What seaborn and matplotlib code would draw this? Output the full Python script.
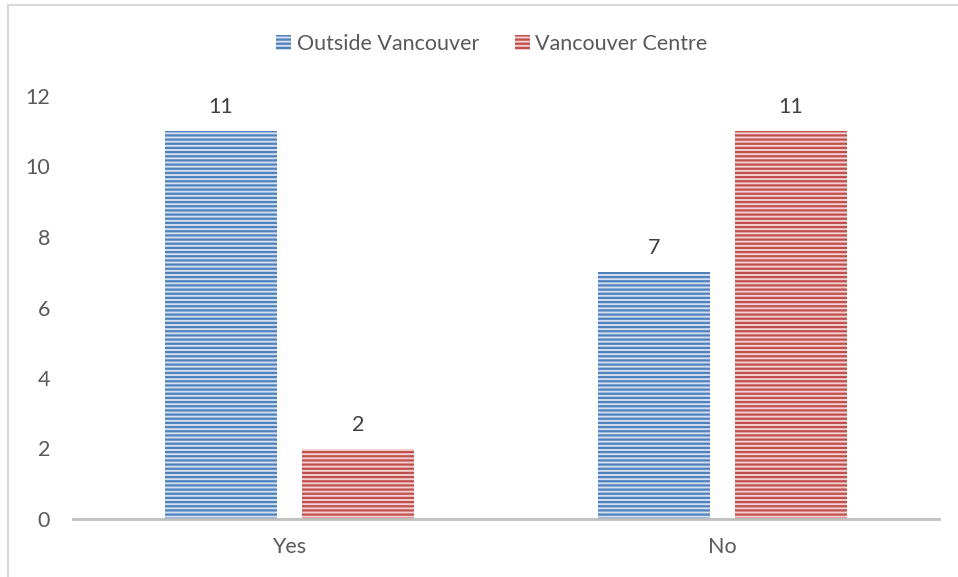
import matplotlib
matplotlib.use("Agg")
import matplotlib.pyplot as plt
import seaborn as sns
import pandas as pd
from matplotlib.patches import Patch, Rectangle

categories = ["Yes", "No"]
series_names = ["Outside Vancouver", "Vancouver Centre"]
outside_values = [11, 7]
centre_values = [2, 11]
yticks = [0, 2, 4, 6, 8, 10, 12]

dark_colors = {"Outside Vancouver": "#4f81bd", "Vancouver Centre": "#c0504d"}
light_colors = {"Outside Vancouver": "#d3dff0", "Vancouver Centre": "#f2d0cf"}

df = pd.DataFrame({
    "answer": categories * 2,
    "region": [series_names[0]] * 2 + [series_names[1]] * 2,
    "count": outside_values + centre_values,
})

sns.set_theme(style="white")
plt.rcParams["font.family"] = ["Lato", "DejaVu Sans"]
plt.rcParams["hatch.linewidth"] = 1.6

FS = 15.5

fig = plt.figure(figsize=(9.58, 5.77), dpi=100)
ax = fig.add_axes([73 / 958, 58 / 577, 866 / 958, 423 / 577])

sns.barplot(data=df, x="answer", y="count", hue="region", order=categories,
            hue_order=series_names, palette=light_colors, width=0.632, gap=0.183,
            ax=ax, legend=False)

for container, name in zip(ax.containers, series_names):
    for bar in container:
        bar.set_facecolor(light_colors[name])
        bar.set_edgecolor(dark_colors[name])
        bar.set_hatch("----")
        bar.set_linewidth(0)
    ax.bar_label(container, padding=10, fontsize=FS, color="#404040")

ax.set_xlim(-0.5, 1.5)
ax.set_ylim(0, 12)
ax.set_yticks(yticks)
ax.set_xlabel("")
ax.set_ylabel("")
for s in ["top", "right", "left"]:
    ax.spines[s].set_visible(False)
ax.spines["bottom"].set_color("#bfbfbf")
ax.spines["bottom"].set_linewidth(2)
ax.tick_params(axis="both", length=0, labelsize=FS, labelcolor="#595959")
ax.tick_params(axis="y", pad=16.5)
ax.tick_params(axis="x", pad=13)

handles = [Patch(facecolor=light_colors[n], edgecolor=dark_colors[n], hatch="----",
                 linewidth=0) for n in series_names]
fig.legend(handles, series_names, loc="center", bbox_to_anchor=(492 / 958, 1 - 44 / 577),
           ncol=2, frameon=False, fontsize=FS, labelcolor="#595959",
           handlelength=0.7, handleheight=0.7, handletextpad=0.25, columnspacing=1.67)

fig.patches.append(Rectangle((8 / 958, -0.05), 1.0, (577 - 5) / 577 + 0.05,
                             transform=fig.transFigure, fill=False,
                             edgecolor="#d9d9d9", linewidth=1.5))

fig.savefig("out.png", dpi=100)
